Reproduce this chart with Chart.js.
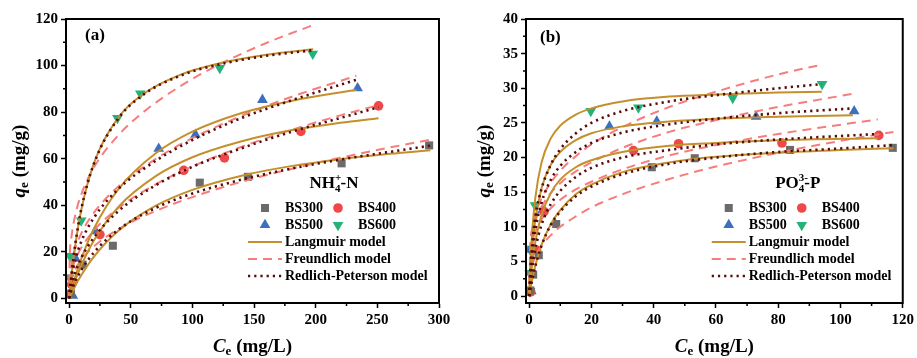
<!DOCTYPE html>
<html>
<head>
<meta charset="utf-8">
<script src="https://cdn.jsdelivr.net/npm/chart.js@4.4.1/dist/chart.umd.min.js"></script>
<style>
html, body { margin: 0; padding: 0; background: #fff; }
#wrap { position: relative; width: 917px; height: 358px; }
.panel { position: absolute; top: 0; height: 358px; }
#pa { left: 0; width: 458px; }
#pb { left: 458px; width: 459px; }
</style>
</head>
<body>
<div id="wrap">
  <div class="panel" id="pa"><canvas id="chartA"></canvas></div>
  <div class="panel" id="pb"><canvas id="chartB"></canvas></div>
</div>
<script>
// ---- (a) NH4+-N : measured points ----
const nhCe300 = [1.5, 11, 35.5, 106, 145, 221, 292];
const nhQe300 = [2, 14.5, 22.6, 49.7, 52.2, 58, 65.7];
const nhCe400 = [2, 25, 93, 126, 188, 251];
const nhQe400 = [6, 27.4, 55, 60.3, 71.7, 82.7];
const nhCe500 = [3, 5.3, 21.4, 72.7, 102.5, 156.8, 234];
const nhQe500 = [1.2, 17, 28.9, 64.3, 70.3, 85.3, 90.3];
const nhCe600 = [0.2, 0.8, 9.8, 39.2, 57.8, 122.2, 197.6];
const nhQe600 = [8.9, 18.1, 33.4, 77.4, 88, 98.9, 105];

// ---- (a) model curves ----
const nhX300 = [0, 0.5, 2, 5, 10, 20, 40, 70, 100, 140, 180, 220, 260, 293];
const nhLang300 = [0, 0.6, 2.2, 5.4, 10.0, 17.8, 29.0, 39.7, 46.6, 52.7, 56.8, 59.8, 62.1, 63.6];
const nhFr300 = [0, 4.8, 8.6, 12.5, 16.7, 22.3, 29.7, 37.5, 43.5, 50.1, 55.6, 60.4, 64.8, 68.1];
const nhRP300 = [0, 1.2, 3.5, 7.2, 12.2, 19.6, 29.5, 38.8, 45.0, 51.0, 55.7, 59.6, 62.9, 65.6];

const nhX400 = [0, 0.5, 2, 5, 10, 20, 40, 70, 100, 140, 180, 220, 251];
const nhLang400 = [0, 0.8, 3.2, 7.7, 14.2, 24.7, 39.3, 52.4, 60.6, 67.5, 72.2, 75.4, 77.4];
const nhFr400 = [0, 6.3, 11.2, 16.4, 21.8, 29.1, 38.8, 48.9, 56.7, 65.1, 72.3, 78.6, 83.0];
const nhRP400 = [0, 1.8, 5.0, 11.0, 17.5, 26.0, 37.5, 48.5, 56.5, 64.5, 71.5, 77.5, 82.1];

const nhX500 = [0, 0.5, 2, 5, 10, 20, 40, 70, 100, 140, 180, 233];
const nhLang500 = [0, 1.0, 3.9, 9.3, 17.2, 29.8, 46.9, 62.2, 71.6, 79.6, 84.8, 89.6];
const nhFr500 = [0, 8.7, 14.9, 21.4, 28.0, 36.7, 48.1, 59.8, 68.8, 78.4, 86.5, 95.6];
const nhRP500 = [0, 3.0, 9.0, 16.5, 24.5, 34.5, 47.0, 59.0, 68.0, 77.5, 85.0, 93.9];

const nhX600 = [0, 0.5, 2, 5, 10, 20, 40, 60, 90, 120, 160, 198];
const nhLang600 = [0, 2.8, 10.3, 22.8, 38.3, 57.8, 77.7, 87.7, 96.0, 100.7, 104.6, 107.0];
const nhFr600 = [0, 17.1, 26.6, 35.8, 44.8, 56.1, 70.1, 79.9, 91.1, 100.0, 109.7, 117.4];
const nhRP600 = [0, 2.9, 10.6, 23.2, 38.6, 57.6, 77.3, 87.4, 95.6, 100.3, 104.2, 106.6];

// ---- (b) PO4 3- -P : measured points ----
const poCe300 = [0.4, 1.3, 3.1, 8.7, 39.4, 53.2, 83.8, 116.8];
const poQe300 = [0.8, 3.1, 5.9, 10.4, 18.6, 19.9, 21.1, 21.4];
const poCe400 = [0.5, 2.4, 4.8, 33.5, 48, 81.2, 112.3];
const poQe400 = [0.6, 6.6, 12.2, 21, 22, 22.1, 23.2];
const poCe500 = [0.4, 0.7, 4.3, 25.8, 41, 72.9, 104.4];
const poQe500 = [6.7, 0.7, 12.4, 24.5, 25.2, 25.9, 26.7];
const poCe600 = [0.3, 0.2, 0.2, 1.9, 19.8, 35.1, 65.4, 94.1];
const poQe600 = [0.7, 3.3, 6.8, 13.1, 26.7, 27.2, 28.6, 30.6];

// ---- (b) model curves ----
const poX300 = [0, 0.5, 1, 2, 4, 7, 10, 15, 20, 30, 45, 60, 80, 100, 117];
const poLang300 = [0, 1.3, 2.4, 4.4, 7.4, 10.4, 12.4, 14.7, 16.1, 17.9, 19.3, 20.1, 20.7, 21.1, 21.35];
const poFr300 = [0, 3.5, 4.5, 5.7, 7.3, 8.8, 10.0, 11.5, 12.8, 14.7, 16.9, 18.7, 20.7, 22.4, 23.7];
const poRP300 = [0, 1.2, 2.3, 4.3, 7.3, 10.3, 12.2, 14.4, 15.8, 17.6, 19.1, 20.0, 20.8, 21.3, 21.8];

const poX400 = [0, 0.5, 1, 2, 4, 7, 10, 15, 20, 30, 45, 60, 80, 112];
const poLang400 = [0, 2.6, 4.7, 7.8, 11.7, 14.9, 16.8, 18.6, 19.6, 20.8, 21.7, 22.1, 22.5, 22.8];
const poFr400 = [0, 6.6, 7.8, 9.3, 11.1, 12.7, 13.9, 15.4, 16.5, 18.3, 20.3, 21.8, 23.4, 25.5];
const poRP400 = [0, 2.2, 4.0, 6.8, 10.3, 13.3, 15.2, 17.2, 18.5, 20.0, 21.1, 21.9, 22.6, 23.4];

const poX500 = [0, 0.5, 1, 2, 4, 7, 10, 15, 20, 30, 45, 60, 80, 104];
const poLang500 = [0, 4.0, 6.9, 11.0, 15.6, 19.0, 20.8, 22.5, 23.5, 24.5, 25.2, 25.6, 25.9, 26.1];
const poFr500 = [0, 7.7, 9.1, 10.9, 12.9, 14.9, 16.3, 18.0, 19.3, 21.4, 23.7, 25.4, 27.3, 29.2];
const poRP500 = [0, 3.5, 6.0, 9.5, 13.5, 16.8, 18.8, 20.8, 22.1, 23.6, 24.8, 25.6, 26.4, 27.1];

const poX600 = [0, 0.5, 1, 2, 4, 7, 10, 15, 20, 30, 45, 60, 80, 94];
const poLang600 = [0, 5.5, 9.3, 14.2, 19.3, 22.8, 24.6, 26.2, 27.1, 28.1, 28.8, 29.1, 29.4, 29.5];
const poFr600 = [0, 8.0, 9.7, 11.7, 14.1, 16.4, 18.1, 20.2, 21.9, 24.4, 27.3, 29.5, 32.0, 33.4];
const poRP600 = [0, 4.5, 7.5, 11.5, 15.5, 19.0, 21.2, 23.5, 25.0, 26.7, 28.1, 29.0, 30.0, 30.6];

// ---- ticks ----
const nhXTicks = [0, 50, 100, 150, 200, 250, 300];
const nhXMinor = [25, 75, 125, 175, 225, 275];
const nhYTicks = [0, 20, 40, 60, 80, 100, 120];
const nhYMinor = [10, 30, 50, 70, 90, 110];
const poXTicks = [0, 20, 40, 60, 80, 100, 120];
const poXMinor = [10, 30, 50, 70, 90, 110];
const poYTicks = [0, 5, 10, 15, 20, 25, 30, 35, 40];
const poYMinor = [2.5, 7.5, 12.5, 17.5, 22.5, 27.5, 32.5, 37.5];

const seriesNames = ['BS300', 'BS400', 'BS500', 'BS600'];

// ---- styles ----
const SERIF = '"Liberation Serif", "Times New Roman", serif';
const font = (size, style) => (style ? style + ' ' : '') + 'bold ' + size + 'px ' + SERIF;

const markStyle = {
    BS300: { color: '#6b6b6b', shape: 'rect', radius: 5.7, rotation: 0 },
    BS400: { color: '#f04848', shape: 'circle', radius: 4.8, rotation: 0 },
    BS500: { color: '#3c6fc0', shape: 'triangle', radius: 6.2, rotation: 0 },
    BS600: { color: '#22b27a', shape: 'triangle', radius: 6.2, rotation: 180 }
};
const modelStyle = {
    Langmuir: { color: '#c4902c', width: 2, dash: [], order: 2 },
    Freundlich: { color: '#f77d7d', width: 2, dash: [9, 6], order: 3 },
    RP: { color: '#5a0a0a', width: 2.6, dash: [2.2, 4], order: 1 }
};

function pts(xs, ys) {
    return xs.map((x, i) => ({ x: x, y: ys[i] }));
}

function pointSet(name, xs, ys) {
    const m = markStyle[name];
    return {
        label: name, data: pts(xs, ys), showLine: false,
        pointStyle: m.shape, pointRadius: m.radius, pointRotation: m.rotation,
        pointBackgroundColor: m.color, pointBorderWidth: 0, pointHoverRadius: m.radius,
        order: 10, clip: false
    };
}

function modelSet(model, xs, ys) {
    const s = modelStyle[model];
    return {
        label: model, data: pts(xs, ys), showLine: true, pointRadius: 0,
        borderColor: s.color, borderWidth: s.width, borderDash: s.dash,
        borderCapStyle: 'butt', cubicInterpolationMode: 'monotone',
        order: s.order, fill: false
    };
}

// draw a run of text parts (for italics, sub- and superscripts)
function drawRich(ctx, parts, x, y, align) {
    let w = 0;
    parts.forEach(p => {
        ctx.font = p.font;
        p.w = ctx.measureText(p.t).width;
        if (!p.stack) w += p.w;
    });
    let cx = align === 'center' ? x - w / 2 : x;
    ctx.textAlign = 'left';
    ctx.textBaseline = 'middle';
    parts.forEach(p => {
        ctx.font = p.font;
        ctx.fillText(p.t, cx, y + (p.dy || 0));
        if (!p.stack) cx += p.w;
    });
}

function drawMarker(ctx, name, x, y) {
    const m = markStyle[name];
    ctx.fillStyle = m.color;
    if (Chart.helpers && Chart.helpers.drawPoint) {
        Chart.helpers.drawPoint(ctx, { pointStyle: m.shape, radius: m.radius, rotation: m.rotation, borderWidth: 0 }, x, y);
        return;
    }
    ctx.beginPath();
    if (m.shape === 'rect') {
        const s = m.radius * Math.SQRT1_2;
        ctx.rect(x - s, y - s, 2 * s, 2 * s);
    } else if (m.shape === 'circle') {
        ctx.arc(x, y, m.radius, 0, Math.PI * 2);
    } else {
        let rad = m.rotation * Math.PI / 180;
        for (let k = 0; k < 3; k++) {
            const px = x + Math.sin(rad) * m.radius, py = y - Math.cos(rad) * m.radius;
            if (k === 0) ctx.moveTo(px, py); else ctx.lineTo(px, py);
            rad += Math.PI * 2 / 3;
        }
        ctx.closePath();
    }
    ctx.fill();
}

const decor = {
    id: 'decor',
    afterDraw(chart, args, o) {
        const ctx = chart.ctx, a = chart.chartArea;
        const xs = chart.scales.x, ys = chart.scales.y;
        ctx.save();
        // minor ticks
        ctx.strokeStyle = '#000';
        ctx.lineWidth = 1.5;
        ctx.setLineDash([]);
        ctx.beginPath();
        o.minorX.forEach(v => {
            const p = xs.getPixelForValue(v);
            ctx.moveTo(p, a.bottom); ctx.lineTo(p, a.bottom + 3);
        });
        o.minorY.forEach(v => {
            const p = ys.getPixelForValue(v);
            ctx.moveTo(a.left, p); ctx.lineTo(a.left - 3, p);
        });
        ctx.stroke();
        // frame
        ctx.lineWidth = 2;
        ctx.strokeRect(a.left, a.top, a.width, a.height);

        ctx.fillStyle = '#000';
        // panel label
        drawRich(ctx, [{ t: o.tag, font: font(17) }], a.left + o.tagDx, a.top + o.tagDy, 'left');

        // axis titles
        const cx = (a.left + a.right) / 2;
        drawRich(ctx, [
            { t: 'C', font: font(19, 'italic') },
            { t: 'e', font: font(13), dy: 5 },
            { t: ' (mg/L)', font: font(19) }
        ], cx, 347, 'center');
        ctx.save();
        ctx.translate(o.yTitleX, (a.top + a.bottom) / 2);
        ctx.rotate(-Math.PI / 2);
        drawRich(ctx, [
            { t: 'q', font: font(19, 'italic') },
            { t: 'e', font: font(13), dy: 5 },
            { t: ' (mg/g)', font: font(19) }
        ], 0, 0, 'center');
        ctx.restore();

        // legend
        const R = a.right, B = a.bottom;
        ctx.fillStyle = '#000';
        drawRich(ctx, o.legendTitle, R - 105, B - 119, 'center');
        const cols = [[R - 174, R - 154], [R - 101, R - 81]];
        const rows = [B - 95, B - 78];
        seriesNames.forEach((n, i) => {
            const c = cols[i % 2], r = rows[Math.floor(i / 2)];
            drawMarker(ctx, n, c[0], r);
            ctx.fillStyle = '#000';
            drawRich(ctx, [{ t: n, font: font(14) }], c[1], r, 'left');
        });
        const lines = [['Langmuir', 'Langmuir model'], ['Freundlich', 'Freundlich model'], ['RP', 'Redlich-Peterson model']];
        lines.forEach((l, i) => {
            const s = modelStyle[l[0]], y = B - 61 + i * 17;
            ctx.strokeStyle = s.color;
            ctx.lineWidth = s.width;
            ctx.setLineDash(s.dash);
            ctx.beginPath();
            ctx.moveTo(R - 191, y); ctx.lineTo(R - 157, y);
            ctx.stroke();
            ctx.setLineDash([]);
            ctx.fillStyle = '#000';
            drawRich(ctx, [{ t: l[1], font: font(14) }], R - 154, y, 'left');
        });
        ctx.restore();
    }
};

function axis(min, max, ticks, fitSize, isX) {
    return {
        type: 'linear', min: min, max: max,
        afterBuildTicks: s => { s.ticks = ticks.map(v => ({ value: v })); },
        afterFit: s => { if (isX) s.height = fitSize; else s.width = fitSize; },
        grid: { drawOnChartArea: false, drawTicks: true, tickLength: 5, tickWidth: 1.5, tickColor: '#000' },
        border: { display: true, color: '#000', width: 2 },
        ticks: { color: '#000', font: { family: SERIF, size: 15, weight: 'bold' }, padding: 3, maxRotation: 0, autoSkip: false }
    };
}

function makeChart(id, datasets, xCfg, yCfg, pad, deco) {
    return new Chart(document.getElementById(id), {
        type: 'scatter',
        data: { datasets: datasets },
        options: {
            responsive: true, maintainAspectRatio: false, animation: false,
            layout: { padding: pad },
            scales: { x: xCfg, y: yCfg },
            plugins: { legend: { display: false }, tooltip: { enabled: false }, decor: deco }
        },
        plugins: [decor]
    });
}

// ---- chart (a) ----
const dsA = [
    pointSet('BS300', nhCe300, nhQe300),
    pointSet('BS400', nhCe400, nhQe400),
    pointSet('BS500', nhCe500, nhQe500),
    pointSet('BS600', nhCe600, nhQe600),
    modelSet('Langmuir', nhX300, nhLang300), modelSet('Freundlich', nhX300, nhFr300), modelSet('RP', nhX300, nhRP300),
    modelSet('Langmuir', nhX400, nhLang400), modelSet('Freundlich', nhX400, nhFr400), modelSet('RP', nhX400, nhRP400),
    modelSet('Langmuir', nhX500, nhLang500), modelSet('Freundlich', nhX500, nhFr500), modelSet('RP', nhX500, nhRP500),
    modelSet('Langmuir', nhX600, nhLang600), modelSet('Freundlich', nhX600, nhFr600), modelSet('RP', nhX600, nhRP600)
];
makeChart('chartA', dsA,
    axis(-2.5, 300, nhXTicks, 55, true),
    axis(-2, 120, nhYTicks, 66, false),
    { top: 19, right: 19, left: 0, bottom: 0 },
    {
        minorX: nhXMinor, minorY: nhYMinor, tag: '(a)', tagDx: 19, tagDy: 17, yTitleX: 20,
        legendTitle: [
            { t: 'NH', font: font(17) },
            { t: '+', font: font(11), dy: -6, stack: true },
            { t: '4', font: font(11), dy: 5 },
            { t: '-N', font: font(17) }
        ]
    });

// ---- chart (b) ----
const dsB = [
    pointSet('BS300', poCe300, poQe300),
    pointSet('BS400', poCe400, poQe400),
    pointSet('BS500', poCe500, poQe500),
    pointSet('BS600', poCe600, poQe600),
    modelSet('Langmuir', poX300, poLang300), modelSet('Freundlich', poX300, poFr300), modelSet('RP', poX300, poRP300),
    modelSet('Langmuir', poX400, poLang400), modelSet('Freundlich', poX400, poFr400), modelSet('RP', poX400, poRP400),
    modelSet('Langmuir', poX500, poLang500), modelSet('Freundlich', poX500, poFr500), modelSet('RP', poX500, poRP500),
    modelSet('Langmuir', poX600, poLang600), modelSet('Freundlich', poX600, poFr600), modelSet('RP', poX600, poRP600)
];
makeChart('chartB', dsB,
    axis(-1, 120, poXTicks, 55, true),
    axis(-1, 40, poYTicks, 68, false),
    { top: 19, right: 12, left: 0, bottom: 0 },
    {
        minorX: poXMinor, minorY: poYMinor, tag: '(b)', tagDx: 14, tagDy: 19, yTitleX: 27,
        legendTitle: [
            { t: 'PO', font: font(17) },
            { t: '3-', font: font(11), dy: -6, stack: true },
            { t: '4', font: font(11), dy: 5 },
            { t: '-P', font: font(17) }
        ]
    });
</script>
</body>
</html>
